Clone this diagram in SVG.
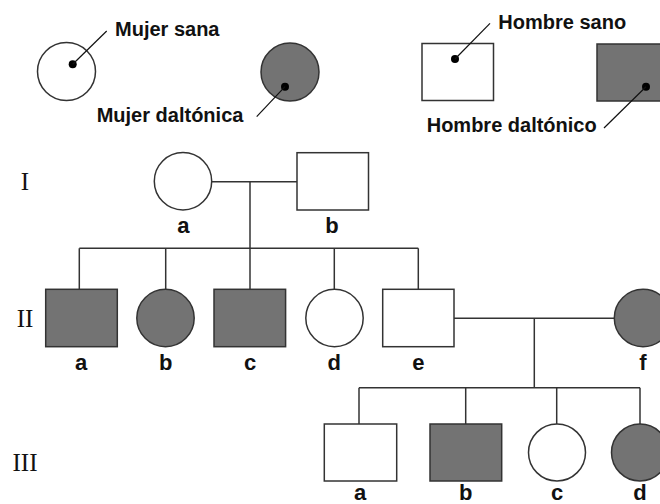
<svg xmlns="http://www.w3.org/2000/svg" width="660" height="504" viewBox="0 0 660 504">
<style>
.s{stroke:#333;stroke-width:1.5;fill:#fff}
.f{stroke:#333;stroke-width:1.5;fill:#737373}
.l{stroke:#333;stroke-width:1.5;fill:none}
.p{stroke:#111;stroke-width:1.2;fill:none}
.dot{fill:#000}
.t{font-family:"Liberation Sans",Arial,sans-serif;font-weight:bold;font-size:20px;fill:#111}
.lb{font-family:"Liberation Sans",Arial,sans-serif;font-weight:bold;font-size:22px;fill:#111;text-anchor:middle}
.g{font-family:"Liberation Serif","Times New Roman",serif;font-size:25px;fill:#111;text-anchor:middle}
</style>
<rect width="660" height="504" fill="#fff"/>
<g id="legend">
  <g id="leg-mujer-sana">
    <circle class="s" cx="66.5" cy="71.5" r="29"/>
    <circle class="dot" cx="72.7" cy="64.3" r="4"/>
    <line class="p" x1="72.7" y1="64.3" x2="106.7" y2="31"/>
    <text class="t" x="115" y="36">Mujer sana</text>
  </g>
  <g id="leg-mujer-daltonica">
    <circle class="f" cx="290" cy="72" r="29"/>
    <circle class="dot" cx="285" cy="86.7" r="4"/>
    <line class="p" x1="285" y1="86.7" x2="256.7" y2="116.7"/>
    <text class="t" x="96.7" y="121.7">Mujer daltónica</text>
  </g>
  <g id="leg-hombre-sano">
    <rect class="s" x="422" y="43.5" width="71.5" height="57"/>
    <circle class="dot" cx="455" cy="59" r="4"/>
    <line class="p" x1="455" y1="59" x2="490" y2="23.3"/>
    <text class="t" x="498.3" y="29">Hombre sano</text>
  </g>
  <g id="leg-hombre-daltonico">
    <rect class="f" x="597" y="44" width="72" height="57"/>
    <circle class="dot" cx="646" cy="86.7" r="4"/>
    <line class="p" x1="646" y1="86.7" x2="604" y2="128"/>
    <text class="t" x="426.7" y="132">Hombre daltónico</text>
  </g>
</g>
<g id="generations">
  <text class="g" x="25" y="190">I</text>
  <text class="g" x="25" y="326.7">II</text>
  <text class="g" x="25" y="471">III</text>
</g>
<g id="connectors">
  <line class="l" x1="211.7" y1="181.7" x2="297" y2="181.7"/>
  <line class="l" x1="250" y1="181.7" x2="250" y2="248.3"/>
  <line class="l" x1="79.3" y1="248.3" x2="418.3" y2="248.3"/>
  <line class="l" x1="79.3" y1="248.3" x2="79.3" y2="289.3"/>
  <line class="l" x1="165.7" y1="248.3" x2="165.7" y2="289.3"/>
  <line class="l" x1="250" y1="248.3" x2="250" y2="289.3"/>
  <line class="l" x1="334.3" y1="248.3" x2="334.3" y2="289.3"/>
  <line class="l" x1="418.3" y1="248.3" x2="418.3" y2="289.3"/>
  <line class="l" x1="454" y1="318.3" x2="614.3" y2="318.3"/>
  <line class="l" x1="534.3" y1="318.3" x2="534.3" y2="387.7"/>
  <line class="l" x1="359" y1="387.7" x2="640" y2="387.7"/>
  <line class="l" x1="359" y1="387.7" x2="359" y2="424"/>
  <line class="l" x1="465.7" y1="387.7" x2="465.7" y2="424"/>
  <line class="l" x1="556.7" y1="387.7" x2="556.7" y2="424"/>
  <line class="l" x1="640" y1="387.7" x2="640" y2="424"/>
</g>
<g id="I-a"><circle class="s" cx="183" cy="181.3" r="28.7"/><text class="lb" x="183.3" y="233.3">a</text></g>
<g id="I-b"><rect class="s" x="297" y="152.7" width="71.5" height="57.3"/><text class="lb" x="332" y="233.3">b</text></g>
<g id="II-a"><rect class="f" x="45.7" y="289.3" width="71.6" height="57.4"/><text class="lb" x="81" y="370">a</text></g>
<g id="II-b"><circle class="f" cx="165.5" cy="318" r="28.7"/><text class="lb" x="165.7" y="370">b</text></g>
<g id="II-c"><rect class="f" x="214" y="289.3" width="71.6" height="57.4"/><text class="lb" x="250" y="370">c</text></g>
<g id="II-d"><circle class="s" cx="334.5" cy="318" r="28.7"/><text class="lb" x="334.3" y="370">d</text></g>
<g id="II-e"><rect class="s" x="382.7" y="289.3" width="71.3" height="57.4"/><text class="lb" x="418.3" y="370">e</text></g>
<g id="II-f"><circle class="f" cx="643" cy="318" r="28.7"/><text class="lb" x="643" y="370">f</text></g>
<g id="III-a"><rect class="s" x="324.3" y="424" width="72.4" height="57"/><text class="lb" x="360" y="500">a</text></g>
<g id="III-b"><rect class="f" x="430" y="424" width="71.7" height="57"/><text class="lb" x="465.7" y="500">b</text></g>
<g id="III-c"><circle class="s" cx="557" cy="452.5" r="28.5"/><text class="lb" x="557" y="500">c</text></g>
<g id="III-d"><circle class="f" cx="640" cy="452.5" r="28.5"/><text class="lb" x="640" y="500">d</text></g>
</svg>
